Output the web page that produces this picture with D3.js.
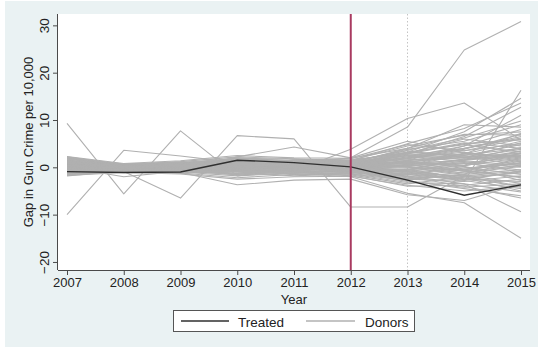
<!DOCTYPE html>
<html>
<head>
<meta charset="utf-8">
<script src="https://cdn.jsdelivr.net/npm/d3@7"></script>
<style>
  html, body { margin: 0; padding: 0; background: #ffffff; }
  svg { display: block; }
  text { font-family: "Liberation Sans", Arial, Helvetica, sans-serif; }
</style>
</head>
<body>
<svg id="chart" width="538" height="347"></svg>
<script>
// ---------------- data ----------------
const years = [2007, 2008, 2009, 2010, 2011, 2012, 2013, 2014, 2015];
const yTicks = [-20, -10, 0, 10, 20, 30];
const treatmentYear = 2012;
const markerYear = 2013;
const legendLabels = ["Treated", "Donors"];

const treated = [-0.9, -1.1, -1.0, 1.5, 1.0, 0.1, -2.7, -5.9, -3.7];

const donorsCore = [
  [2.2, 0.5, 0.8, 1.5, 1.2, 0.8, 2.5, 4.0, 6.5],
  [1.8, 0.3, 0.2, -0.5, 0.4, 1.0, 3.8, 5.5, 9.0],
  [1.5, -0.2, -0.6, 0.3, -0.2, -0.5, -1.5, -2.8, -4.5],
  [1.2, 0.0, 0.5, 0.9, 0.6, 0.2, 1.2, 2.1, 3.0],
  [0.9, -0.4, -0.8, -1.2, -0.9, -1.0, -2.2, -1.0, 0.5],
  [0.6, 0.2, 0.1, 0.4, 0.0, -0.3, 0.5, -0.8, -2.0],
  [0.3, -0.1, 0.3, -0.3, 0.8, 0.6, 2.0, 3.2, 1.5],
  [0.0, 0.4, 0.6, 1.1, 1.4, 1.5, 4.5, 6.8, 7.5],
  [-0.3, -0.6, -1.0, -1.8, -1.2, -0.8, -3.0, -4.2, -3.5],
  [-0.6, -0.3, 0.0, 0.6, 0.2, 0.4, 0.8, 1.5, 4.2],
  [-0.9, -0.8, -0.4, -0.9, -0.6, -1.2, -1.8, -3.5, -5.2],
  [-1.2, -0.5, -1.2, -2.2, -1.5, -1.6, -3.5, -2.0, -1.2],
  [-1.5, -1.0, -0.3, 0.2, -0.4, -0.2, 0.3, 0.9, -0.6],
  [-1.8, -0.7, 0.4, 1.8, 1.0, 0.9, 2.8, 5.0, 5.8],
  [2.0, 0.6, 1.2, 2.2, 1.8, 1.4, 3.2, 2.5, 4.8],
  [1.6, 0.1, -0.2, -0.8, -0.4, 0.1, -0.5, 1.8, 2.6],
  [1.0, 0.7, 0.9, 0.5, 0.3, -0.6, -1.0, -0.2, 1.0],
  [0.7, -0.2, -0.4, 0.0, -0.7, -0.4, 1.5, 2.8, 5.5],
  [0.4, 0.3, 0.7, 1.3, 0.9, 0.3, 0.0, -1.5, -0.5],
  [0.1, -0.5, -0.9, -0.6, -1.1, -1.4, -2.8, -4.5, -6.0],
  [-0.2, 0.1, 0.4, 0.8, 0.5, 0.7, 1.8, 3.8, 7.0],
  [-0.5, -0.2, -0.7, -1.5, -0.3, 0.2, 0.9, 0.4, 2.0],
  [-0.8, -0.9, -1.3, -0.4, -0.8, -0.9, -0.3, -2.5, -3.0],
  [-1.1, -0.4, 0.2, 1.0, 0.7, 0.0, -0.8, 0.5, 3.5],
  [-1.4, -0.6, -0.5, -1.0, -1.8, -1.3, -2.5, -3.0, -1.8],
  [1.9, 0.2, 0.5, 0.2, 1.5, 1.8, 4.8, 3.5, 6.0],
  [1.3, 0.4, 1.0, 1.6, 0.1, 0.5, 2.2, 4.5, 8.0],
  [0.8, 0.0, -0.1, 0.7, -0.3, -0.7, 0.6, 1.0, -1.0],
  [0.5, -0.3, 0.6, -0.2, 0.4, 0.9, 1.0, -0.5, 0.8],
  [0.2, 0.5, 0.2, 0.0, 1.1, 1.2, 3.5, 2.0, 3.8],
  [-0.1, -0.7, -0.2, -1.3, -0.5, -0.1, -1.2, -1.8, -4.0],
  [-0.4, 0.2, -0.6, 0.4, -0.9, -1.8, -4.0, -3.8, -2.5],
  [-0.7, -0.1, 0.8, 1.4, 0.6, 0.4, 1.4, 2.4, 1.2],
  [-1.0, -0.8, -0.3, -0.7, 0.2, -0.5, 0.2, -1.2, 0.2],
  [-1.3, 0.0, -1.0, 0.6, -0.2, 0.6, 2.6, 1.6, 2.8],
  [-1.6, -0.4, 0.0, -0.2, -1.4, -1.1, -1.6, 0.2, -2.8],
  [1.7, 0.6, 0.3, 1.2, 0.8, 0.1, 0.4, 2.6, 4.0],
  [1.1, -0.3, 0.9, 0.1, 1.6, 1.6, 3.0, 6.0, 4.5],
  [0.6, 0.1, -0.5, -0.9, 0.2, -0.2, -0.7, -2.2, -5.0],
  [0.0, -0.2, 0.1, 0.9, -0.5, 0.3, 1.1, 0.0, -1.5],
  [-0.6, 0.3, 0.5, 2.0, 1.3, 1.1, 2.4, 1.2, 0.0],
  [-0.9, -0.5, -0.8, -0.2, 0.0, -0.6, -2.0, -0.5, 1.8],
  [-1.2, -0.2, 0.3, -0.6, -0.7, 0.0, 0.5, 3.0, 2.2],
  [2.3, 0.8, 1.4, 2.5, 2.0, 1.9, 4.0, 7.0, 6.8],
  [-1.7, -1.1, -1.4, -2.5, -2.0, -1.9, -3.8, -5.0, -4.0],
  [0.9, 0.0, 0.4, 0.0, -0.1, -0.9, -2.6, -1.4, 1.4],
  [0.3, -0.4, -0.3, 0.5, 0.9, 0.8, 1.6, 2.0, 5.2],
  [-0.3, 0.6, 1.1, 0.3, 0.4, -0.3, -0.4, 1.4, 0.4],
  [1.4, 0.2, 0.0, -1.0, -0.6, 0.5, 0.0, -0.6, -2.2],
  [-0.2, -0.6, -0.6, 1.6, 1.1, 1.3, 3.2, 4.8, 3.2],
  [1.0, 0.2, 0.6, 1.0, 0.5, 0.3, 1.8, 3.5, 5.0],
  [0.7, -0.1, -0.2, 0.2, 0.3, 0.0, -0.6, 0.8, 2.4],
  [-0.4, -0.4, 0.2, -0.1, 0.6, 0.5, 2.5, 2.2, 0.6],
  [0.2, 0.1, 0.0, -0.5, -0.2, -0.6, -1.3, -2.6, -0.8],
  [1.8, 0.4, 0.7, 1.8, 1.4, 1.0, 3.0, 5.2, 4.0],
  [-0.7, -0.6, -0.9, -1.4, -1.0, -0.7, -2.4, -1.6, -3.4],
  [1.5, 0.5, 0.3, 0.7, 0.0, 0.6, 1.3, 0.3, 3.0],
  [-1.0, 0.1, 0.6, 0.5, 1.0, 1.0, 2.0, 4.0, 6.2],
  [0.4, -0.5, -0.1, 1.2, 0.7, 0.2, 0.6, -0.8, 1.6],
  [-1.5, -0.9, -0.6, -1.6, -1.2, -0.5, -0.9, -2.0, -4.2],
  [2.1, 0.7, 1.0, 1.9, 1.7, 1.2, 3.6, 6.2, 9.8],
  [-0.1, 0.3, 0.5, 0.0, -0.4, 0.0, 0.2, 1.6, 3.4],
  [0.8, -0.2, 0.2, 0.6, 1.2, 0.7, 2.8, 2.6, 2.4],
  [-0.8, -0.3, -0.4, -0.4, -0.2, -1.0, -1.4, -0.4, 0.9],
  [1.3, 0.0, 0.4, 1.4, 0.6, 0.4, 1.0, 2.8, 7.2]
];

const donorsOutliers = [
  [9.3, -5.6, 7.7, -1.8, -0.5, 0.2, 0.8, 1.5, 2.5],
  [-0.5, -0.9, -6.5, 6.7, 6.0, -8.4, -8.4, -1.8, -0.8],
  [-10.0, 3.6, 2.4, 1.0, 0.5, 0.2, -1.0, -2.5, -1.0],
  [0.5, 0.0, -0.2, 0.3, 0.8, 2.0, 8.5, 24.8, 30.8],
  [0.2, 0.4, 0.8, 1.0, -0.8, 3.8, 10.3, 13.6, 5.8],
  [-0.8, -0.3, 0.2, -0.4, 0.3, -0.5, -1.0, -3.0, 16.3],
  [1.0, 0.3, 0.5, 0.8, 1.0, 0.8, 3.2, 7.5, 14.6],
  [0.5, -0.2, 0.0, 0.6, 0.4, 1.4, 5.0, 8.2, 13.6],
  [-0.4, 0.1, 0.6, 1.2, 0.8, 0.5, 2.8, 6.5, 12.7],
  [0.8, 0.5, -0.3, 0.2, 0.6, -0.2, 1.5, 4.5, 11.0],
  [-1.0, -0.3, 0.3, -0.6, 0.2, 0.9, 4.0, 9.0, 8.5],
  [0.4, -0.6, -1.0, -0.8, -1.3, -2.0, -5.5, -7.5, -15.0],
  [-0.6, 0.2, 0.1, -0.3, -0.9, -1.4, -3.2, -3.5, -9.4],
  [1.2, -0.1, 0.4, 0.3, -0.4, -0.8, -2.0, -4.0, -6.5],
  [-1.3, -0.7, -1.1, -3.7, -2.7, -2.5, -5.8, -7.0, -3.5],
  [0.0, -2.0, -0.8, 2.2, 4.3, 2.0, 5.5, 3.0, 2.0]
];

// ---------------- layout ----------------
const W = 538, H = 347;
const plot = { left: 58, right: 530, top: 14, bottom: 270 };
const fontSize = "13px";

const svg = d3.select("#chart");

// outer background
svg.append("rect").attr("x", 0).attr("y", 0).attr("width", W).attr("height", H).attr("fill", "#ffffff");
svg.append("rect").attr("x", 5).attr("y", 1).attr("width", W - 5).attr("height", H - 1).attr("fill", "#eaf2f3");

// plot region
svg.append("rect")
  .attr("x", plot.left).attr("y", plot.top)
  .attr("width", plot.right - plot.left).attr("height", plot.bottom - plot.top)
  .attr("fill", "#ffffff");

const x = d3.scaleLinear().domain([2007, 2015]).range([67, 521]);
const y = d3.scaleLinear().domain([-21.7, 32.4]).range([plot.bottom, plot.top]);

// dotted reference line at 2013 (behind the data)
svg.append("line")
  .attr("x1", x(markerYear)).attr("x2", x(markerYear))
  .attr("y1", plot.top).attr("y2", plot.bottom)
  .attr("stroke", "#c4c4c4").attr("stroke-width", 1)
  .attr("stroke-dasharray", "1.5,2");

const line = d3.line().x((d, i) => x(years[i])).y(d => y(d));

const donors = donorsCore.concat(donorsOutliers);
svg.append("g").selectAll("path").data(donors).join("path")
  .attr("d", line)
  .attr("fill", "none")
  .attr("stroke", "#b0b0b0")
  .attr("stroke-width", 1.1)
  .attr("stroke-linejoin", "round");

svg.append("path")
  .attr("d", line(treated))
  .attr("fill", "none")
  .attr("stroke", "#2f2f2f")
  .attr("stroke-width", 1.4);

// treatment line
svg.append("line")
  .attr("x1", x(treatmentYear)).attr("x2", x(treatmentYear))
  .attr("y1", plot.top).attr("y2", plot.bottom)
  .attr("stroke", "#a83a60").attr("stroke-width", 2);

// ---------------- axes ----------------
const axisColor = "#4a4a4a";
const xAxis = d3.axisBottom(x).tickValues(years).tickFormat(d3.format("d")).tickSize(5).tickPadding(3);
const gx = svg.append("g").attr("transform", `translate(0,${plot.bottom})`).call(xAxis);
gx.select(".domain").attr("d", `M${plot.left},0.5H${plot.right}`).attr("stroke", axisColor);
gx.selectAll(".tick line").attr("stroke", axisColor);
gx.selectAll(".tick text")
  .attr("font-size", fontSize)
  .attr("fill", "#222")
  .attr("font-family", "'Liberation Sans', Arial, sans-serif");

const yAxis = d3.axisLeft(y).tickValues(yTicks).tickSize(5).tickPadding(0).tickFormat(d3.format("d"));
const gy = svg.append("g").attr("transform", `translate(${plot.left},0)`).call(yAxis);
gy.select(".domain").attr("d", `M-0.5,${plot.top}V${plot.bottom}`).attr("stroke", axisColor);
gy.selectAll(".tick line").attr("stroke", axisColor);
gy.selectAll(".tick text")
  .attr("x", null).attr("dy", null)
  .attr("transform", "translate(-9,0) rotate(-90)")
  .attr("text-anchor", "middle")
  .attr("font-size", "13.5px")
  .attr("fill", "#222")
  .attr("font-family", "'Liberation Sans', Arial, sans-serif");

// axis titles
svg.append("text")
  .attr("x", (plot.left + plot.right) / 2).attr("y", 304)
  .attr("text-anchor", "middle")
  .attr("font-size", fontSize).attr("fill", "#222")
  .text("Year");

svg.append("text")
  .attr("transform", `translate(33,${(plot.top + plot.bottom) / 2}) rotate(-90)`)
  .attr("text-anchor", "middle")
  .attr("font-size", "13px").attr("fill", "#222")
  .text("Gap in Gun Crime per 10,000");

// ---------------- legend ----------------
const lg = svg.append("g");
lg.append("rect")
  .attr("x", 173.5).attr("y", 310.5).attr("width", 241).attr("height", 21)
  .attr("fill", "#ffffff").attr("stroke", "#555").attr("stroke-width", 1);
lg.append("line").attr("x1", 181).attr("x2", 229).attr("y1", 321).attr("y2", 321)
  .attr("stroke", "#2f2f2f").attr("stroke-width", 1.4);
lg.append("text").attr("x", 238).attr("y", 326.5).attr("font-size", "13.5px").attr("fill", "#222").text(legendLabels[0]);
lg.append("line").attr("x1", 306).attr("x2", 355).attr("y1", 321).attr("y2", 321)
  .attr("stroke", "#b0b0b0").attr("stroke-width", 1.4);
lg.append("text").attr("x", 365).attr("y", 326.5).attr("font-size", "13.5px").attr("fill", "#222").text(legendLabels[1]);
</script>
</body>
</html>
